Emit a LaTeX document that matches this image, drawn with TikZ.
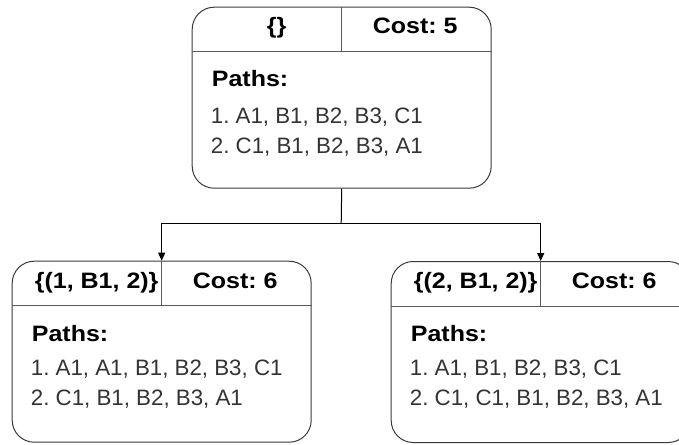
\documentclass[tikz,border=0pt]{standalone}
\usepackage{fontspec}
\setmainfont{Liberation Sans}[BoldFeatures={FakeStretch=1.12}]
\usetikzlibrary{arrows.meta}
\definecolor{boxgray}{HTML}{3A3A3A}
\definecolor{sepgray}{HTML}{5A5A5A}
\definecolor{textgray}{HTML}{333333}
\tikzset{
  card/.style={draw=boxgray, rounded corners=22pt, minimum width=299pt, minimum height=181pt,
    inner sep=0pt, anchor=north west, line width=1pt},
  hdr/.style={font=\frenchspacing\bfseries\fontsize{22.3}{26}\selectfont, anchor=base, inner sep=0pt, text=black},
  ttl/.style={font=\frenchspacing\bfseries\fontsize{22.3}{26}\selectfont, anchor=base west, inner sep=0pt, text=black},
  pth/.style={font=\frenchspacing\fontsize{22.3}{26}\selectfont, anchor=base west, inner sep=0pt, text=textgray},
  sepline/.style={draw=sepgray, line width=1pt},
  link/.style={draw=black, line width=1pt},
  conn/.style={draw=black, line width=1pt, -{Triangle[length=8pt,width=7pt]}}
}
\begin{document}
\begin{tikzpicture}[x=1pt,y=-1pt]
\clip (0,0) rectangle (679,444);
% top card
\node[card] (top) at (191.7,6.7) {};
\draw[sepline] ([yshift=-45pt]top.north west) -- ([yshift=-45pt]top.north east);
\draw[sepline] (top.north) -- ([yshift=-45pt]top.north);
\node[hdr] (topset) at ([xshift=85pt,yshift=-26.8pt]top.north west) {\{\}};
\node[hdr] (topcost) at ([xshift=223.5pt,yshift=-26.8pt]top.north west) {Cost: 5};
\node[ttl] (toppaths) at ([xshift=20pt,yshift=-79.5pt]top.north west) {Paths:};
\node[pth] (topp1) at ([xshift=19pt,yshift=-116.8pt]top.north west) {1. A1, B1, B2, B3, C1};
\node[pth] (topp2) at ([xshift=19pt,yshift=-147pt]top.north west) {2. C1, B1, B2, B3, A1};
% left card
\node[card] (left) at (11.7,260.7) {};
\draw[sepline] ([yshift=-45pt]left.north west) -- ([yshift=-45pt]left.north east);
\draw[sepline] (left.north) -- ([yshift=-45pt]left.north);
\node[hdr] (leftset) at ([xshift=85pt,yshift=-27.5pt]left.north west) {\{(1, B1, 2)\}};
\node[hdr] (leftcost) at ([xshift=223.5pt,yshift=-27.5pt]left.north west) {Cost: 6};
\node[ttl] (leftpaths) at ([xshift=20pt,yshift=-80.5pt]left.north west) {Paths:};
\node[pth] (leftp1) at ([xshift=19pt,yshift=-114.5pt]left.north west) {1. A1, A1, B1, B2, B3, C1};
\node[pth] (leftp2) at ([xshift=19pt,yshift=-144.5pt]left.north west) {2. C1, B1, B2, B3, A1};
% right card
\node[card] (right) at (390.7,261) {};
\draw[sepline] ([yshift=-45pt]right.north west) -- ([yshift=-45pt]right.north east);
\draw[sepline] (right.north) -- ([yshift=-45pt]right.north);
\node[hdr] (rightset) at ([xshift=85pt,yshift=-27.5pt]right.north west) {\{(2, B1, 2)\}};
\node[hdr] (rightcost) at ([xshift=223.5pt,yshift=-27.5pt]right.north west) {Cost: 6};
\node[ttl] (rightpaths) at ([xshift=20pt,yshift=-80.5pt]right.north west) {Paths:};
\node[pth] (rightp1) at ([xshift=19pt,yshift=-114.5pt]right.north west) {1. A1, B1, B2, B3, C1};
\node[pth] (rightp2) at ([xshift=19pt,yshift=-144.5pt]right.north west) {2. C1, C1, B1, B2, B3, A1};
% connectors
\coordinate (j) at (341.2,223.3);
\draw[link] (top.south) -- (j);
\draw[conn] (j) -| (left.north);
\draw[conn] (j) -| (right.north);
\end{tikzpicture}
\end{document}
